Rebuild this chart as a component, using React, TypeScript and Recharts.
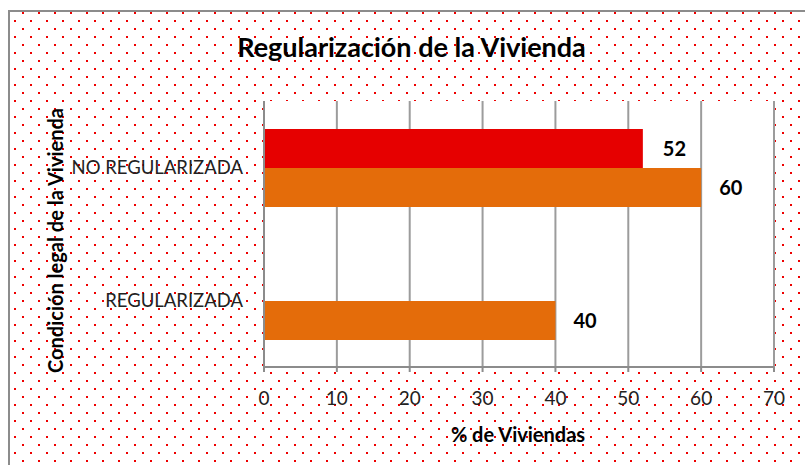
import { Bar, BarChart, CartesianGrid, LabelList, XAxis, YAxis } from "recharts";

const categories = ["NO REGULARIZADA", "REGULARIZADA"];
const redValues = [52, null];
const orangeValues = [60, 40];
const xTicks = [0, 10, 20, 30, 40, 50, 60, 70];

const data = categories.map((name, i) => ({
  name,
  rojo: redValues[i],
  naranja: orangeValues[i],
}));

const FONT = "Lato, 'Open Sans', sans-serif";
const AXIS = "#8c8c8c";

const dotTile =
  "<svg xmlns='http://www.w3.org/2000/svg' width='16' height='16'>" +
  "<rect x='6' y='12' width='2' height='2' fill='#ee0000'/>" +
  "<rect x='14' y='4' width='2' height='2' fill='#ee0000'/></svg>";
const dots = `url("data:image/svg+xml,${encodeURIComponent(dotTile)}")`;

const labelStyle = { fontFamily: FONT, fontSize: 20, fontWeight: 700 };

export default function App() {
  return (
    <div style={{ position: "absolute", left: 0, top: 0, width: 805, height: 465, overflow: "hidden", background: "#fff" }}>
      <div
        style={{
          position: "absolute",
          left: 8,
          top: 10,
          width: 805,
          height: 465,
          borderLeft: `2px solid ${AXIS}`,
          borderTop: `2px solid ${AXIS}`,
          backgroundImage: dots,
          backgroundPosition: "-10px -12px",
        }}
      />
      <div style={{ position: "absolute", left: 0, top: 0 }}>
        <BarChart
          width={805}
          height={465}
          data={data}
          layout="vertical"
          barGap={0}
          margin={{ top: 101, right: 31, bottom: 0, left: 0 }}
        >
          <CartesianGrid horizontal={false} stroke="#9c9c9c" strokeWidth={2} fill="#fff" fillOpacity={1} />
          <XAxis
            type="number"
            domain={[0, 70]}
            ticks={xTicks}
            interval={0}
            height={98}
            axisLine={{ stroke: AXIS, strokeWidth: 2 }}
            tickLine={{ stroke: AXIS, strokeWidth: 2 }}
            tickSize={5}
            tickMargin={20}
            tick={{ fill: "#222", fontSize: 19, fontFamily: FONT }}
          />
          <YAxis
            type="category"
            dataKey="name"
            width={264}
            axisLine={{ stroke: AXIS, strokeWidth: 2 }}
            tickLine={false}
            tickSize={0}
            tickMargin={21}
            tick={{ fill: "#222", fontSize: 18.5, fontFamily: FONT }}
          />
          <Bar dataKey="rojo" fill="#e60000" barSize={39} isAnimationActive={false}>
            <LabelList dataKey="rojo" position="right" offset={20} fill="#000" style={labelStyle} />
          </Bar>
          <Bar dataKey="naranja" fill="#e46c0a" barSize={39} isAnimationActive={false}>
            <LabelList dataKey="naranja" position="right" offset={18} fill="#000" style={labelStyle} />
          </Bar>
        </BarChart>
      </div>
      <svg width={805} height={465} style={{ position: "absolute", left: 0, top: 0, pointerEvents: "none" }}>
        <text x={411.5} y={57} textAnchor="middle" fontFamily={FONT} fontSize={27} fontWeight={700} fill="#000">
          Regularización de la Vivienda
        </text>
        <text x={518} y={442} textAnchor="middle" fontFamily={FONT} fontSize={20} fontWeight={700} fill="#000">
          % de Viviendas
        </text>
        <text
          x={63}
          y={240.5}
          transform="rotate(-90 63 240.5)"
          textAnchor="middle"
          fontFamily={FONT}
          fontSize={20}
          fontWeight={700}
          fill="#000"
        >
          Condición legal de la Vivienda
        </text>
      </svg>
    </div>
  );
}
